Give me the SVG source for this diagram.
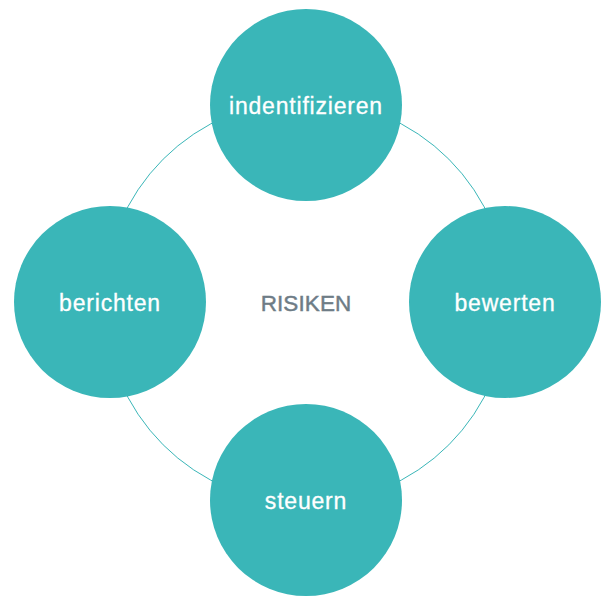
<svg xmlns="http://www.w3.org/2000/svg" width="604" height="596" viewBox="0 0 604 596">
<style>
.node{fill:#3ab6b8}
.lbl{font-family:"Liberation Sans",Arial,sans-serif;font-size:23px;letter-spacing:0.8px;fill:#ffffff;stroke:#ffffff;stroke-width:0.3px;text-anchor:middle}
.center{font-family:"Liberation Sans",Arial,sans-serif;font-size:22.5px;letter-spacing:0.1px;fill:#6e7c86;stroke:#6e7c86;stroke-width:0.45px;text-anchor:middle}
.ring{fill:none;stroke:#3ab6b8;stroke-width:1}
</style>
<rect width="604" height="596" fill="#ffffff"/>
<g id="connectors">
<circle class="ring" cx="306" cy="302" r="202"/>
</g>
<g id="risiken">
<text class="center" x="306" y="311">RISIKEN</text>
</g>
<g id="indentifizieren">
<circle class="node" cx="306" cy="105" r="96"/>
<text class="lbl" x="306" y="114">indentifizieren</text>
</g>
<g id="bewerten">
<circle class="node" cx="505" cy="302" r="96"/>
<text class="lbl" x="505" y="311">bewerten</text>
</g>
<g id="steuern">
<circle class="node" cx="306" cy="500" r="96"/>
<text class="lbl" x="306" y="509">steuern</text>
</g>
<g id="berichten">
<circle class="node" cx="110" cy="302" r="96"/>
<text class="lbl" x="110" y="311">berichten</text>
</g>
</svg>
